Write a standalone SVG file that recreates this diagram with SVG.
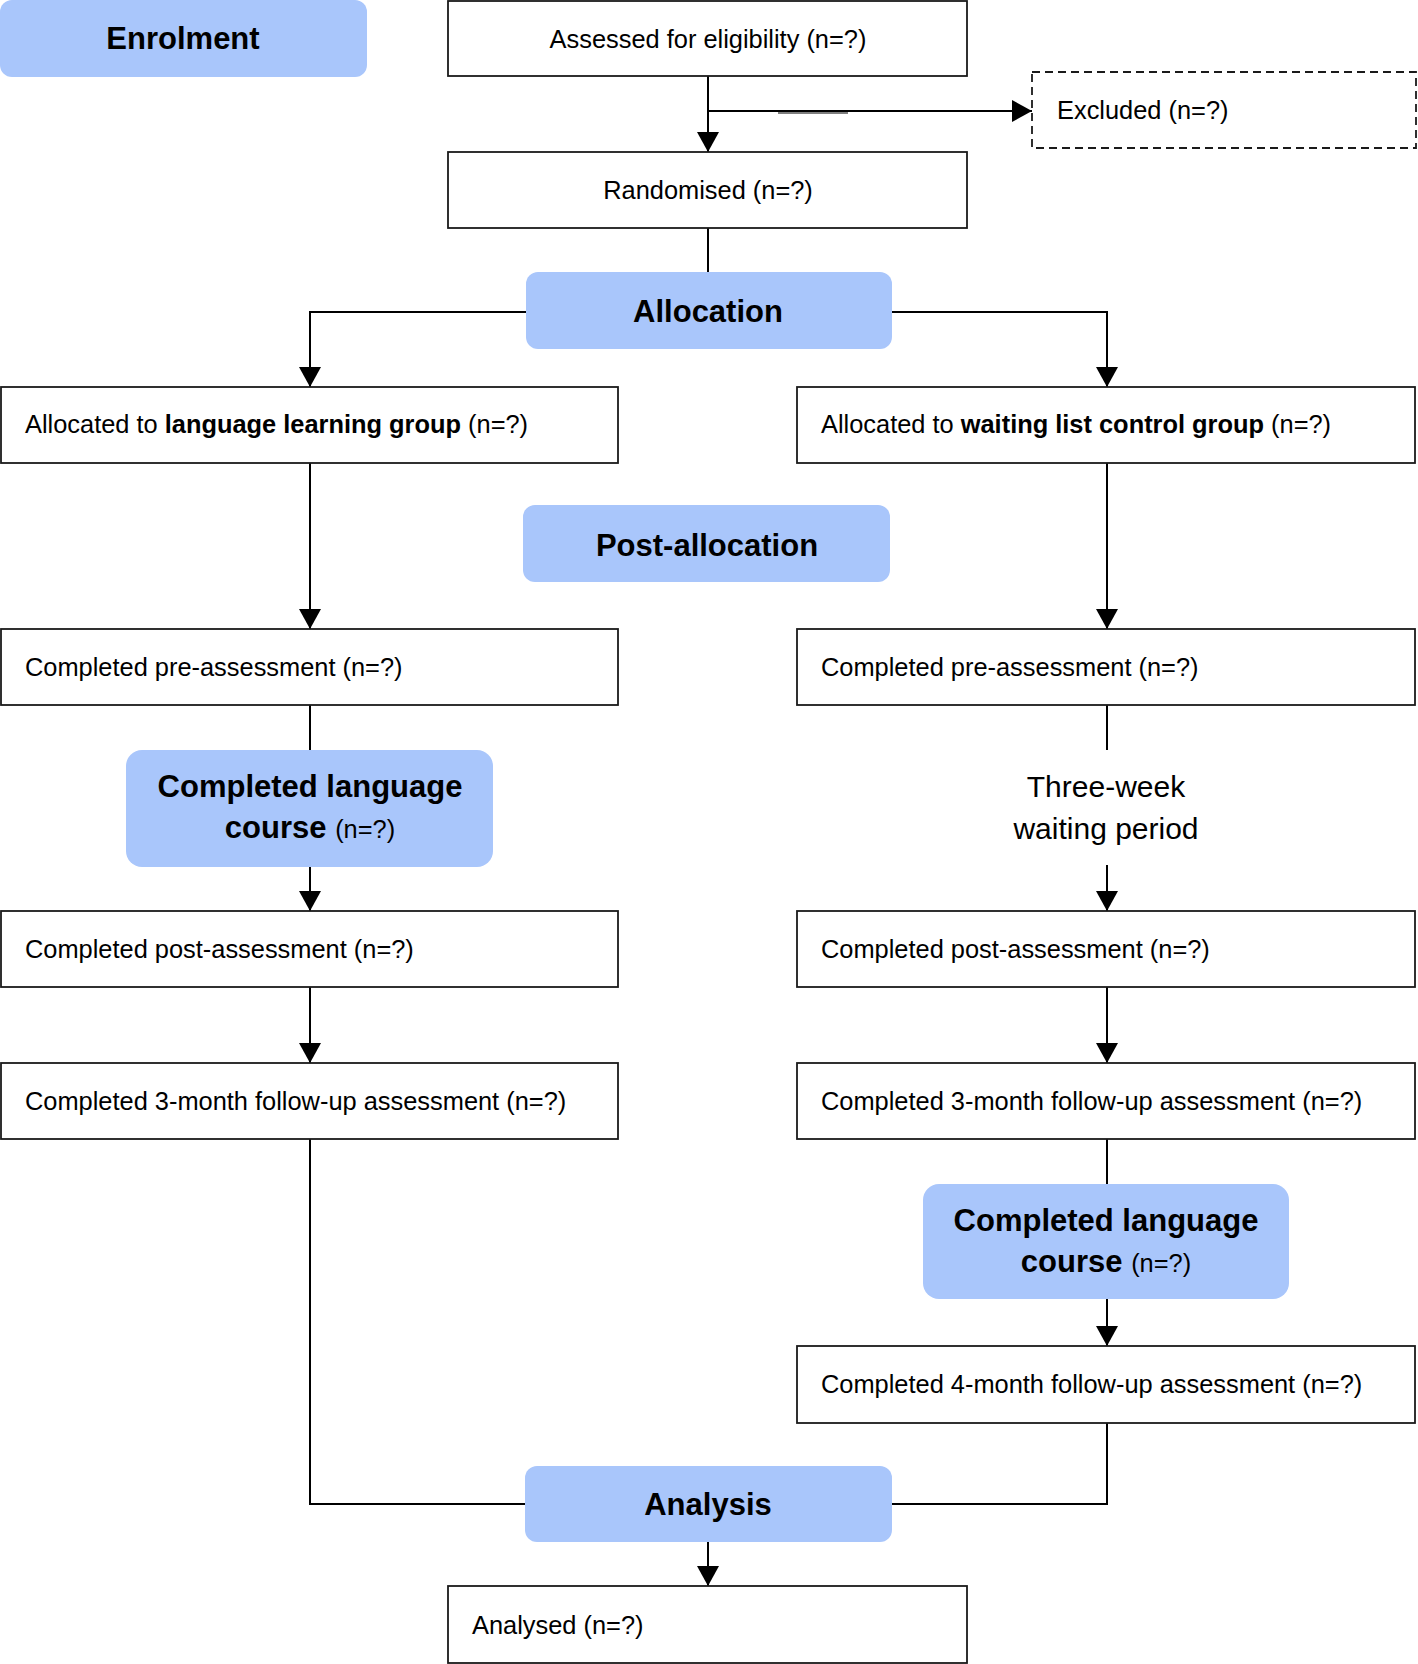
<svg xmlns="http://www.w3.org/2000/svg" width="1418" height="1664" viewBox="0 0 1418 1664">
<style>
  .box { fill: #ffffff; stroke: #1a1a1a; stroke-width: 1.8; }
  .dash { fill: #ffffff; stroke: #1a1a1a; stroke-width: 1.8; stroke-dasharray: 8 5; }
  .hdr { fill: #a9c6fb; stroke: none; }
  .t { font-family: "Liberation Sans", Arial, sans-serif; font-size: 25.4px; fill: #000; }
  .h { font-family: "Liberation Sans", Arial, sans-serif; font-size: 31px; font-weight: bold; fill: #000; }
  .w { font-family: "Liberation Sans", Arial, sans-serif; font-size: 30px; fill: #000; }
  .b { font-weight: bold; }
  .con { fill: none; stroke: #000; stroke-width: 2; }
</style>
<defs>
  <marker id="arr" markerUnits="userSpaceOnUse" markerWidth="20" markerHeight="22" refX="20" refY="11" orient="auto" viewBox="0 0 20 22">
    <path d="M0,0 L20,11 L0,22 Z" fill="#000"/>
  </marker>
</defs>
<rect width="1418" height="1664" fill="#ffffff"/>

<g id="connectors">
  <path class="con" d="M708,76 L708,152" marker-end="url(#arr)"/>
  <path class="con" d="M708,111 L1032,111" marker-end="url(#arr)"/>
  <path d="M778,113 L848,113" stroke="#555" stroke-width="1.5" fill="none"/>
  <path class="con" d="M708,228 L708,272"/>
  <path class="con" d="M526,312 L310,312 L310,387" marker-end="url(#arr)"/>
  <path class="con" d="M891,312 L1107,312 L1107,387" marker-end="url(#arr)"/>
  <path class="con" d="M310,463 L310,629" marker-end="url(#arr)"/>
  <path class="con" d="M1107,463 L1107,629" marker-end="url(#arr)"/>
  <path class="con" d="M310,705 L310,750"/>
  <path class="con" d="M310,867 L310,911" marker-end="url(#arr)"/>
  <path class="con" d="M1107,705 L1107,750"/>
  <path class="con" d="M1107,865 L1107,911" marker-end="url(#arr)"/>
  <path class="con" d="M310,987 L310,1063" marker-end="url(#arr)"/>
  <path class="con" d="M1107,987 L1107,1063" marker-end="url(#arr)"/>
  <path class="con" d="M310,1139 L310,1504 L525,1504"/>
  <path class="con" d="M1107,1139 L1107,1184"/>
  <path class="con" d="M1107,1299 L1107,1346" marker-end="url(#arr)"/>
  <path class="con" d="M1107,1423 L1107,1504 L892,1504"/>
  <path class="con" d="M708,1542 L708,1586" marker-end="url(#arr)"/>
</g>

<g id="enrolment">
  <rect class="hdr" x="0" y="0" width="367" height="77" rx="12"/>
  <text class="h" x="183" y="49" text-anchor="middle">Enrolment</text>
</g>
<g id="assessed">
  <rect class="box" x="448" y="1" width="519" height="75"/>
  <text class="t" x="708" y="48" text-anchor="middle">Assessed for eligibility (n=?)</text>
</g>
<g id="excluded">
  <rect class="dash" x="1032" y="72" width="384" height="76"/>
  <text class="t" x="1057" y="119">Excluded (n=?)</text>
</g>
<g id="randomised">
  <rect class="box" x="448" y="152" width="519" height="76"/>
  <text class="t" x="708" y="199" text-anchor="middle">Randomised (n=?)</text>
</g>
<g id="allocation">
  <rect class="hdr" x="526" y="272" width="366" height="77" rx="12"/>
  <text class="h" x="708" y="322" text-anchor="middle">Allocation</text>
</g>
<g id="alloc-left">
  <rect class="box" x="1" y="387" width="617" height="76"/>
  <text class="t" x="25" y="433">Allocated to <tspan class="b">language learning group</tspan> (n=?)</text>
</g>
<g id="alloc-right">
  <rect class="box" x="797" y="387" width="618" height="76"/>
  <text class="t" x="821" y="433">Allocated to <tspan class="b">waiting list control group</tspan> (n=?)</text>
</g>
<g id="post-allocation">
  <rect class="hdr" x="523" y="505" width="367" height="77" rx="12"/>
  <text class="h" x="707" y="556" text-anchor="middle">Post-allocation</text>
</g>
<g id="pre-left">
  <rect class="box" x="1" y="629" width="617" height="76"/>
  <text class="t" x="25" y="676">Completed pre-assessment (n=?)</text>
</g>
<g id="pre-right">
  <rect class="box" x="797" y="629" width="618" height="76"/>
  <text class="t" x="821" y="676">Completed pre-assessment (n=?)</text>
</g>
<g id="course-left">
  <rect class="hdr" x="126" y="750" width="367" height="117" rx="16"/>
  <text class="h" x="310" y="797" text-anchor="middle">Completed language</text>
  <text class="h" x="310" y="838" text-anchor="middle">course <tspan class="t" style="font-weight:normal">(n=?)</tspan></text>
</g>
<g id="waiting">
  <text class="w" x="1106" y="797" text-anchor="middle">Three-week</text>
  <text class="w" x="1106" y="839" text-anchor="middle">waiting period</text>
</g>
<g id="post-left">
  <rect class="box" x="1" y="911" width="617" height="76"/>
  <text class="t" x="25" y="958">Completed post-assessment (n=?)</text>
</g>
<g id="post-right">
  <rect class="box" x="797" y="911" width="618" height="76"/>
  <text class="t" x="821" y="958">Completed post-assessment (n=?)</text>
</g>
<g id="follow3-left">
  <rect class="box" x="1" y="1063" width="617" height="76"/>
  <text class="t" x="25" y="1110">Completed 3-month follow-up assessment (n=?)</text>
</g>
<g id="follow3-right">
  <rect class="box" x="797" y="1063" width="618" height="76"/>
  <text class="t" x="821" y="1110">Completed 3-month follow-up assessment (n=?)</text>
</g>
<g id="course-right">
  <rect class="hdr" x="923" y="1184" width="366" height="115" rx="16"/>
  <text class="h" x="1106" y="1231" text-anchor="middle">Completed language</text>
  <text class="h" x="1106" y="1272" text-anchor="middle">course <tspan class="t" style="font-weight:normal">(n=?)</tspan></text>
</g>
<g id="follow4-right">
  <rect class="box" x="797" y="1346" width="618" height="77"/>
  <text class="t" x="821" y="1393">Completed 4-month follow-up assessment (n=?)</text>
</g>
<g id="analysis">
  <rect class="hdr" x="525" y="1466" width="367" height="76" rx="12"/>
  <text class="h" x="708" y="1515" text-anchor="middle">Analysis</text>
</g>
<g id="analysed">
  <rect class="box" x="448" y="1586" width="519" height="77"/>
  <text class="t" x="472" y="1634">Analysed (n=?)</text>
</g>
</svg>
